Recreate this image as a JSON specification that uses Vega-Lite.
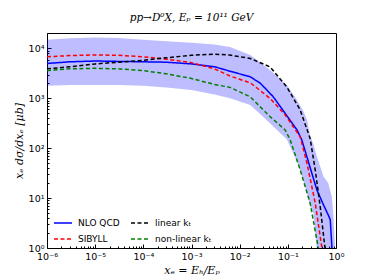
{
  "$schema": "https://vega.github.io/schema/vega-lite/v6.json",
  "width": 289,
  "height": 215,
  "autosize": {"type": "none"},
  "padding": {"left": 47, "top": 33, "right": 38, "bottom": 32},
  "background": "white",
  "config": {
    "view": {"stroke": "black", "strokeWidth": 1},
    "axis": {"domain": false, "grid": false, "labelFont": "DejaVu Sans", "labelFontSize": 9.5, "labelColor": "black", "tickColor": "black", "titleColor": "black"}
  },
  "title": {"text": "pp→D⁰X, Eₚ = 10¹¹ GeV", "font": "DejaVu Serif", "fontStyle": "italic", "fontWeight": "normal", "fontSize": 10.5, "offset": 5, "color": "black"},
  "datasets": {
    "band": [
      {"x": 1e-6, "lo": 1780, "hi": 15000},
      {"x": 3e-6, "lo": 1850, "hi": 16000},
      {"x": 1e-5, "lo": 1860, "hi": 16600},
      {"x": 3e-5, "lo": 1850, "hi": 16200},
      {"x": 1e-4, "lo": 1780, "hi": 15000},
      {"x": 3e-4, "lo": 1650, "hi": 14000},
      {"x": 1e-3, "lo": 1470, "hi": 13000},
      {"x": 3e-3, "lo": 1200, "hi": 12000},
      {"x": 0.0063, "lo": 1000, "hi": 10700},
      {"x": 0.0166, "lo": 735, "hi": 7350},
      {"x": 0.0427, "lo": 316, "hi": 3700},
      {"x": 0.0955, "lo": 150, "hi": 1850},
      {"x": 0.155, "lo": 55, "hi": 930},
      {"x": 0.209, "lo": 23, "hi": 560},
      {"x": 0.251, "lo": 12, "hi": 370},
      {"x": 0.29, "lo": 7, "hi": 180},
      {"x": 0.339, "lo": 5, "hi": 120},
      {"x": 0.398, "lo": 1, "hi": 70},
      {"x": 0.55, "lo": 0.3, "hi": 27},
      {"x": 0.69, "lo": 0.3, "hi": 20},
      {"x": 0.82, "lo": 0.3, "hi": 10.7},
      {"x": 0.885, "lo": 0.3, "hi": 4.3},
      {"x": 0.955, "lo": 0.3, "hi": 1}
    ],
    "lines": [
      {"series": "NLO QCD", "x": 1e-6, "y": 5000},
      {"series": "NLO QCD", "x": 3e-6, "y": 5400},
      {"series": "NLO QCD", "x": 1e-5, "y": 5600},
      {"series": "NLO QCD", "x": 3e-5, "y": 5500},
      {"series": "NLO QCD", "x": 1e-4, "y": 5400},
      {"series": "NLO QCD", "x": 3e-4, "y": 5300},
      {"series": "NLO QCD", "x": 1e-3, "y": 4900},
      {"series": "NLO QCD", "x": 3e-3, "y": 4300},
      {"series": "NLO QCD", "x": 0.0063, "y": 3500},
      {"series": "NLO QCD", "x": 0.0166, "y": 2700},
      {"series": "NLO QCD", "x": 0.027, "y": 2000},
      {"series": "NLO QCD", "x": 0.05, "y": 1070},
      {"series": "NLO QCD", "x": 0.088, "y": 500},
      {"series": "NLO QCD", "x": 0.155, "y": 233},
      {"series": "NLO QCD", "x": 0.195, "y": 147},
      {"series": "NLO QCD", "x": 0.4, "y": 14.7},
      {"series": "NLO QCD", "x": 0.55, "y": 7.3},
      {"series": "NLO QCD", "x": 0.69, "y": 4.6},
      {"series": "NLO QCD", "x": 0.76, "y": 3.7},
      {"series": "NLO QCD", "x": 0.82, "y": 1.07},
      {"series": "NLO QCD", "x": 0.84, "y": 0.8},
      {"series": "SIBYLL", "x": 1e-6, "y": 6800},
      {"series": "SIBYLL", "x": 3e-6, "y": 7200},
      {"series": "SIBYLL", "x": 1e-5, "y": 7400},
      {"series": "SIBYLL", "x": 3e-5, "y": 7300},
      {"series": "SIBYLL", "x": 1e-4, "y": 6800},
      {"series": "SIBYLL", "x": 3e-4, "y": 6100},
      {"series": "SIBYLL", "x": 1e-3, "y": 5200},
      {"series": "SIBYLL", "x": 3e-3, "y": 3900},
      {"series": "SIBYLL", "x": 0.0063, "y": 2800},
      {"series": "SIBYLL", "x": 0.0166, "y": 2050},
      {"series": "SIBYLL", "x": 0.0427, "y": 1000},
      {"series": "SIBYLL", "x": 0.088, "y": 466},
      {"series": "SIBYLL", "x": 0.18, "y": 170},
      {"series": "SIBYLL", "x": 0.25, "y": 50},
      {"series": "SIBYLL", "x": 0.37, "y": 8},
      {"series": "SIBYLL", "x": 0.51, "y": 1},
      {"series": "SIBYLL", "x": 0.53, "y": 0.8},
      {"series": "linear kₜ", "x": 1e-6, "y": 3900},
      {"series": "linear kₜ", "x": 3e-6, "y": 4300},
      {"series": "linear kₜ", "x": 1e-5, "y": 4900},
      {"series": "linear kₜ", "x": 3e-5, "y": 5300},
      {"series": "linear kₜ", "x": 1e-4, "y": 5800},
      {"series": "linear kₜ", "x": 3e-4, "y": 6500},
      {"series": "linear kₜ", "x": 1e-3, "y": 7300},
      {"series": "linear kₜ", "x": 3e-3, "y": 7700},
      {"series": "linear kₜ", "x": 0.0063, "y": 7350},
      {"series": "linear kₜ", "x": 0.0166, "y": 6300},
      {"series": "linear kₜ", "x": 0.0427, "y": 4270},
      {"series": "linear kₜ", "x": 0.095, "y": 1700},
      {"series": "linear kₜ", "x": 0.18, "y": 590},
      {"series": "linear kₜ", "x": 0.29, "y": 158},
      {"series": "linear kₜ", "x": 0.37, "y": 37},
      {"series": "linear kₜ", "x": 0.47, "y": 6.8},
      {"series": "linear kₜ", "x": 0.59, "y": 1},
      {"series": "linear kₜ", "x": 0.62, "y": 0.7},
      {"series": "non-linear kₜ", "x": 1e-6, "y": 3600},
      {"series": "non-linear kₜ", "x": 3e-6, "y": 3900},
      {"series": "non-linear kₜ", "x": 1e-5, "y": 4000},
      {"series": "non-linear kₜ", "x": 3e-5, "y": 3900},
      {"series": "non-linear kₜ", "x": 1e-4, "y": 3600},
      {"series": "non-linear kₜ", "x": 3e-4, "y": 3100},
      {"series": "non-linear kₜ", "x": 1e-3, "y": 2500},
      {"series": "non-linear kₜ", "x": 3e-3, "y": 1900},
      {"series": "non-linear kₜ", "x": 0.0063, "y": 1660},
      {"series": "non-linear kₜ", "x": 0.0166, "y": 1070},
      {"series": "non-linear kₜ", "x": 0.0427, "y": 430},
      {"series": "non-linear kₜ", "x": 0.088, "y": 233},
      {"series": "non-linear kₜ", "x": 0.112, "y": 147},
      {"series": "non-linear kₜ", "x": 0.18, "y": 37},
      {"series": "non-linear kₜ", "x": 0.29, "y": 8},
      {"series": "non-linear kₜ", "x": 0.43, "y": 1},
      {"series": "non-linear kₜ", "x": 0.45, "y": 0.8}
    ]
  },
  "layer": [
    {
      "data": {"name": "band"},
      "mark": {"type": "area", "clip": true, "color": "#0000ff", "opacity": 0.26},
      "encoding": {
        "x": {"field": "x", "type": "quantitative", "scale": {"type": "log", "domain": [1e-6, 1], "nice": false},
          "axis": {
            "title": "xₑ = Eₕ/Eₚ", "titleFont": "DejaVu Serif", "titleFontStyle": "italic", "titleFontWeight": "normal", "titleFontSize": 11, "titlePadding": 2,
            "values": [1e-6,2e-6,3e-6,4e-6,5e-6,6e-6,7e-6,8e-6,9e-6,1e-5,2e-5,3e-5,4e-5,5e-5,6e-5,7e-5,8e-5,9e-5,1e-4,2e-4,3e-4,4e-4,5e-4,6e-4,7e-4,8e-4,9e-4,1e-3,2e-3,3e-3,4e-3,5e-3,6e-3,7e-3,8e-3,9e-3,1e-2,2e-2,3e-2,4e-2,5e-2,6e-2,7e-2,8e-2,9e-2,1e-1,2e-1,3e-1,4e-1,5e-1,6e-1,7e-1,8e-1,9e-1,1],
            "labelExpr": "datum.value===1e-6?'10⁻⁶':datum.value===1e-5?'10⁻⁵':datum.value===1e-4?'10⁻⁴':datum.value===1e-3?'10⁻³':datum.value===1e-2?'10⁻²':datum.value===1e-1?'10⁻¹':datum.value===1?'10⁰':''",
            "tickSize": {"condition": {"test": "abs(log(datum.value)/LN10 - round(log(datum.value)/LN10)) < 0.001", "value": -4}, "value": -2},
            "labelPadding": 7, "labelFlush": false, "labelOverlap": false
          }
        },
        "y": {"field": "lo", "type": "quantitative", "scale": {"type": "log", "domain": [1, 20400], "nice": false},
          "axis": {
            "title": "xₑ dσ/dxₑ [μb]", "titleFont": "DejaVu Serif", "titleFontStyle": "italic", "titleFontWeight": "normal", "titleFontSize": 11, "titlePadding": 4,
            "values": [1,2,3,4,5,6,7,8,9,10,20,30,40,50,60,70,80,90,100,200,300,400,500,600,700,800,900,1000,2000,3000,4000,5000,6000,7000,8000,9000,10000,20000],
            "labelExpr": "datum.value===1?'10⁰':datum.value===10?'10¹':datum.value===100?'10²':datum.value===1000?'10³':datum.value===10000?'10⁴':''",
            "tickSize": {"condition": {"test": "abs(log(datum.value)/LN10 - round(log(datum.value)/LN10)) < 0.001", "value": -4}, "value": -2},
            "labelPadding": 7, "labelFlush": false, "labelOverlap": false
          }
        },
        "y2": {"field": "hi"}
      }
    },
    {
      "data": {"name": "lines"},
      "mark": {"type": "line", "clip": true, "strokeWidth": 1.5},
      "encoding": {
        "x": {"field": "x", "type": "quantitative"},
        "y": {"field": "y", "type": "quantitative"},
        "color": {"field": "series", "type": "nominal",
          "scale": {"domain": ["NLO QCD", "SIBYLL", "linear kₜ", "non-linear kₜ"], "range": ["#0000ff", "#ff0000", "#000000", "#008000"]},
          "legend": {"title": null, "orient": "none", "legendX": 6, "legendY": 180, "columns": 2, "columnPadding": 8, "rowPadding": 1,
            "symbolType": "stroke", "symbolSize": 324, "symbolStrokeWidth": 1.5, "labelFont": "DejaVu Sans", "labelFontSize": 9, "labelColor": "black", "labelOffset": 5}
        },
        "strokeDash": {"field": "series", "type": "nominal",
          "scale": {"domain": ["NLO QCD", "SIBYLL", "linear kₜ", "non-linear kₜ"], "range": [[1, 0], [4, 2.5], [4, 2.5], [4, 2.5]]},
          "legend": {"title": null, "orient": "none", "legendX": 6, "legendY": 180, "columns": 2, "columnPadding": 8, "rowPadding": 1,
            "symbolType": "stroke", "symbolSize": 324, "symbolStrokeWidth": 1.5, "labelFont": "DejaVu Sans", "labelFontSize": 9, "labelColor": "black", "labelOffset": 5}
        }
      }
    }
  ]
}
